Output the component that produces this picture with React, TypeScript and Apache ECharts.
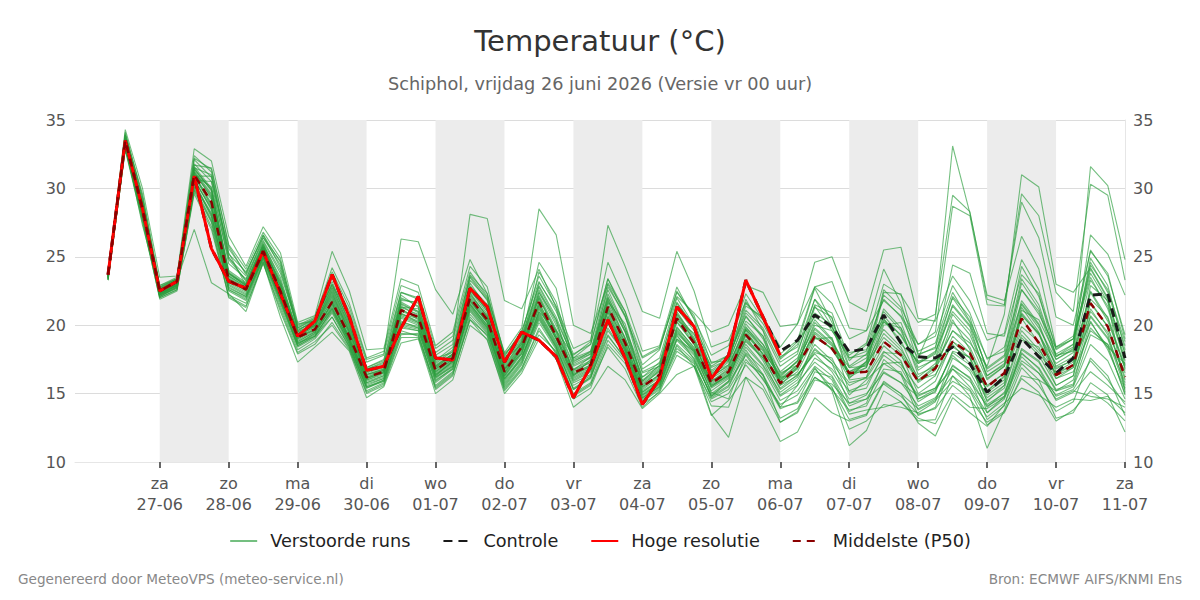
import React, { useEffect, useRef } from "react";
import * as echarts from "echarts";

// 6-hourly steps, hours relative to za 27-06 00:00; first step is 26-06 06:00
const FIRST_HOUR = -18;
const STEP_HOURS = 6;

const weekdays = ["za", "zo", "ma", "di", "wo", "do", "vr", "za", "zo", "ma", "di", "wo", "do", "vr", "za"];
const dates = ["27-06", "28-06", "29-06", "30-06", "01-07", "02-07", "03-07", "04-07", "05-07", "06-07", "07-07", "08-07", "09-07", "10-07", "11-07"];
const shadedDays = [0, 2, 4, 6, 8, 10, 12];
const yTicks = [10, 15, 20, 25, 30, 35];

// Hoge resolutie (runs until 06-07 00:00)
const hoogResolutie = [
  23.7, 33.5, 28.5,
  22.5, 23.2, 30.9, 25.6,
  23.2, 22.7, 25.4, 22.3,
  19.2, 20.3, 23.7, 20.6,
  16.7, 17.0, 19.8, 22.1,
  17.6, 17.45, 22.7, 21.35,
  17.3, 19.5, 18.9, 17.7,
  14.7, 17.0, 20.4, 17.6,
  14.2, 16.1, 21.35, 19.9,
  16.1, 17.8, 23.3, 20.6,
  17.8,
];

// Controle run
const controle = [
  23.7, 33.5, 28.5,
  22.5, 23.2, 30.9, 25.6,
  23.2, 22.7, 25.4, 22.3,
  19.2, 20.3, 23.7, 20.6,
  16.7, 17.0, 19.8, 22.1,
  17.6, 17.45, 22.7, 21.35,
  17.3, 19.5, 18.9, 17.7,
  14.7, 17.0, 20.4, 17.6,
  14.2, 16.1, 21.35, 19.9,
  16.1, 17.8, 23.3, 20.6,
  18.1, 18.9, 20.75, 19.9,
  18.05, 18.3, 20.75, 18.7,
  17.7, 17.6, 18.4, 17.2,
  15.1, 16.2, 19.05, 17.7,
  16.5, 17.6, 22.2, 22.3,
  17.6,
];

// Middelste (P50)
const mediaan = [
  23.7, 33.5, 28.5,
  22.5, 23.2, 31.0, 29.0,
  23.3, 22.6, 25.4, 22.5,
  19.1, 19.7, 21.7, 19.2,
  16.2, 16.6, 21.1, 20.6,
  16.7, 17.6, 22.0, 20.4,
  16.6, 18.4, 21.7, 19.2,
  16.5, 17.1, 21.35, 18.7,
  15.5, 16.4, 20.5, 18.7,
  15.75, 16.6, 19.3, 17.9,
  15.75, 17.0, 19.2, 18.3,
  16.5, 16.6, 18.8, 17.8,
  15.9, 16.85, 18.8, 17.95,
  15.5, 16.5, 20.5, 18.7,
  16.35, 17.1, 21.6, 19.9,
  16.2,
];

// Verstoorde runs (ensemble members)
const run01 = [23.8,33.9,29.0, 22.8,23.4,31.5,29.8, 23.8,22.9,25.8,22.9, 19.4,20.0,22.3,19.6, 16.5,16.9,21.6,20.9, 17.0,17.9,22.6,20.8, 16.9,18.7,22.2,19.7, 16.8,17.4,21.9,19.0, 15.9,16.8,21.0,19.1, 16.3,17.0,19.9,18.3, 16.2,17.4,19.8,18.7, 16.9,17.0,19.4,18.2, 16.2,17.2,19.6,18.4, 15.6,16.5,19.9,18.8, 16.8,17.5,22.4,20.3, 16.9];
const run02 = [23.4,33.0,27.9, 22.1,22.8,30.2,28.1, 22.6,22.0,24.9,21.8, 18.6,19.3,21.0,18.7, 15.7,16.1,20.2,19.9, 16.1,17.0,21.3,19.8, 15.9,17.6,20.8,18.6, 15.8,16.4,20.4,18.1, 14.9,15.8,19.6,18.0, 15.0,15.9,18.4,17.0, 14.8,15.6,17.6,16.8, 15.2,15.7,17.8,16.9, 14.6,15.3,17.0,16.2, 14.0,15.1,18.2,17.3, 15.2,16.0,19.8,18.4, 15.0];
const run03 = [23.6,33.6,28.7, 22.4,23.1,31.8,30.5, 24.5,23.4,26.1,23.8, 19.8,20.4,23.6,21.0, 17.3,17.8,26.3,26.1, 22.6,20.8,24.8,22.3, 17.9,19.2,22.9,20.6, 17.5,18.0,22.6,19.8, 16.6,17.2,20.8,19.3, 16.9,17.5,21.1,19.8, 17.3,18.1,21.4,19.6, 17.6,17.8,20.3,18.9, 16.0,16.4,18.6,17.2, 14.7,15.6,19.3,18.0, 16.1,16.9,20.7,19.1, 15.8];
const run04 = [23.5,33.3,28.3, 22.3,22.9,30.6,28.6, 23.1,22.4,25.2,22.1, 18.9,19.6,21.5,19.2, 16.0,16.4,21.8,21.7, 17.8,18.6,28.1,27.8, 21.8,21.2,24.1,21.3, 17.6,18.1,22.0,19.6, 16.2,17.0,20.9,18.9, 15.6,16.3,18.8,17.6, 15.3,16.2,18.6,17.4, 15.8,16.1,18.1,17.1, 15.4,16.3,19.2,18.0, 15.1,16.0,21.3,19.5, 16.6,17.3,21.7,19.9, 16.0];
const run05 = [23.9,34.1,29.4, 22.9,23.5,32.4,31.2, 25.2,23.9,26.4,24.4, 20.0,20.6,24.2,21.6, 17.6,18.1,22.9,22.4, 18.3,19.2,23.9,22.1, 18.0,19.8,28.5,26.6, 20.0,19.4,23.0,20.6, 17.6,18.3,22.4,20.7, 17.2,17.8,20.6,19.2, 16.5,17.1,20.2,18.9, 16.4,17.3,20.4,19.3, 17.2,18.0,22.1,20.6, 16.6,17.4,23.1,21.2, 17.9,18.6,24.6,22.4, 18.5];
const run06 = [23.7,33.7,28.9, 22.6,23.3,31.2,29.3, 23.6,22.8,25.6,22.6, 19.2,19.9,22.1,19.4, 16.3,16.7,20.6,20.1, 16.5,17.4,22.3,20.6, 16.8,18.5,22.0,19.6, 17.8,18.8,27.3,24.3, 21.0,20.5,25.4,22.5, 18.4,18.9,21.7,20.1, 17.7,18.4,21.9,20.5, 17.0,17.9,21.0,19.6, 16.7,17.6,21.4,19.9, 16.1,17.0,20.8,19.3, 17.2,18.0,23.3,21.4, 17.6];
const run07 = [23.3,32.8,27.5, 22.0,22.6,29.8,27.2, 22.2,21.6,24.7,21.4, 18.2,19.0,20.6,18.4, 15.2,15.8,19.4,19.3, 15.6,16.6,20.8,19.4, 15.5,17.1,20.2,18.2, 15.0,15.8,19.2,17.6, 14.5,15.4,18.3,17.3, 13.5,11.8,16.2,14.0, 11.5,12.2,14.7,13.6, 13.0,13.4,15.8,15.0, 13.9,14.6,16.8,15.9, 14.1,14.8,17.7,16.5, 14.9,15.5,18.6,17.4, 14.6];
const run08 = [23.6,33.4,28.4, 22.5,23.2,30.9,28.8, 23.4,22.7,25.3,22.4, 19.0,19.7,21.9,19.0, 16.1,16.6,21.2,20.4, 16.6,17.5,21.8,20.2, 16.4,18.2,21.5,19.0, 16.3,17.0,21.0,18.4, 15.3,16.2,19.9,18.3, 15.7,16.5,19.6,17.8, 16.0,17.1,19.4,18.2, 16.4,16.9,20.2,19.8, 17.6,20.5,33.1,28.2, 22.2,21.8,26.5,24.1, 18.4,19.0,23.5,21.2, 17.4];
const run09 = [23.5,33.2,28.1, 22.3,23.0,30.7,28.4, 23.2,22.5,25.1,22.2, 18.8,19.5,21.7,18.9, 15.9,16.3,20.9,20.2, 16.4,17.3,22.1,20.5, 16.3,18.1,21.2,19.0, 16.2,16.9,20.7,18.5, 15.2,16.0,19.8,18.4, 15.6,16.4,19.4,17.9, 15.9,16.8,19.7,18.6, 16.6,17.3,21.2,19.8, 16.4,17.0,19.6,18.7, 17.0,20.8,31.0,30.1, 23.0,22.4,24.2,22.0, 17.1];
const run10 = [23.8,33.8,29.1, 22.7,23.4,31.3,29.6, 23.7,22.9,25.7,22.8, 19.3,20.0,22.4,19.5, 16.4,16.8,21.4,20.7, 16.9,17.8,22.2,20.7, 16.7,18.4,22.1,19.4, 16.6,17.3,21.6,19.1, 15.7,16.6,20.6,18.9, 16.1,16.9,20.1,18.6, 16.6,17.6,20.4,19.0, 16.3,17.2,19.7,18.4, 15.8,16.7,20.2,18.9, 16.0,17.0,21.5,19.8, 17.5,18.3,31.6,30.2, 24.8];
const run11 = [23.4,33.1,28.0, 22.2,22.9,30.4,27.9, 22.9,22.2,25.0,22.0, 18.7,19.4,21.3,18.8, 15.8,16.2,20.5,20.0, 16.3,17.2,21.6,20.0, 16.2,17.9,21.0,18.8, 16.0,16.7,20.3,18.2, 15.1,15.9,19.4,18.1, 15.4,16.2,19.0,17.7, 15.7,16.6,19.1,18.3, 16.1,17.4,22.6,21.3, 18.6,19.5,28.7,28.0, 21.5,21.4,29.6,28.0, 22.4,21.0,30.3,29.5, 23.3];
const run12 = [23.3,32.9,27.7, 21.9,22.5,29.9,27.5, 22.0,21.3,24.6,21.0, 17.9,18.6,20.2,18.3, 15.0,15.6,19.1,19.1, 15.3,16.3,20.6,19.2, 15.3,16.8,19.8,17.9, 14.6,15.4,18.6,17.2, 14.2,15.1,17.8,17.0, 14.6,15.3,17.5,16.1, 13.9,14.4,16.9,15.2, 11.2,12.3,15.2,14.4, 13.0,13.1,16.3,14.8, 11.0,13.8,16.9,15.6, 13.7,14.4,17.6,16.3, 13.4];
const run13 = [23.5,33.2,28.2, 22.2,22.8,30.3,28.2, 22.7,22.1,25.0,21.9, 18.5,19.2,21.2,18.6, 15.4,16.0,19.8,19.6, 15.9,16.9,21.2,19.7, 15.7,17.3,20.5,18.4, 15.3,16.1,19.6,17.9, 14.7,15.6,18.9,17.6, 14.8,15.6,18.2,16.4, 14.0,14.3,16.2,15.4, 13.1,13.5,15.9,15.0, 12.85,11.9,14.7,13.6, 12.6,14.2,17.2,16.0, 13.2,13.6,15.8,14.9, 12.2];
const run14 = [23.7,33.5,28.6, 22.5,23.2,31.0,25.6, 23.2,22.6,25.4,22.4, 19.1,20.2,23.5,20.5, 16.6,17.0,19.7,22.0, 17.5,17.5,22.5,21.2, 17.2,19.4,19.0,17.8, 14.8,16.9,20.3,17.7, 14.3,16.2,21.2,19.8, 16.0,17.7,23.3,20.5, 17.6,18.8,20.6,19.8, 18.0,18.2,20.5,18.6, 17.4,17.4,18.4,17.6, 15.2,16.3,19.6,18.2, 16.5,17.1,21.0,19.5, 16.5];
const run15 = [23.6,33.2,27.3, 22.6,23.3,27.0,23.1, 22.3,21.0,24.6,20.6, 17.3,18.4,19.5,18.1, 14.7,15.5,18.7,19.0, 15.0,16.0,20.0,19.0, 15.0,16.5,19.0,17.5, 14.0,15.0,17.0,16.0, 13.9,15.0,16.4,17.0, 13.4,14.5,16.2,15.3, 12.9,13.6,16.0,15.7, 14.3,14.9,17.2,16.4, 14.9,15.4,16.8,15.5, 13.6,14.6,18.0,16.8, 14.5,15.1,16.6,15.6, 14.4];
const run16 = [23.9,34.3,30.0, 23.5,23.6,32.9,32.0, 26.5,24.3,27.2,25.3, 20.2,20.7,25.4,22.5, 18.2,18.3,23.4,22.9, 18.5,19.5,24.3,22.8, 17.7,19.6,23.2,21.0, 17.9,18.6,23.4,20.7, 17.1,18.2,22.5,20.5, 17.8,18.5,22.3,20.4, 17.5,18.6,22.7,20.2, 17.4,18.6,21.9,20.6, 18.1,18.7,22.4,20.3, 17.6,18.1,24.3,22.1, 18.4,19.2,25.5,23.6, 19.3];
const run17 = [23.6,33.5,28.7, 22.5,23.2,31.4,29.9, 23.9,23.0,25.9,23.1, 19.5,20.1,22.8,19.9, 16.7,17.1,22.0,21.4, 17.3,18.2,23.1,21.2, 17.3,18.9,22.6,20.2, 17.1,17.7,22.3,19.8, 16.2,17.3,21.6,19.9, 16.6,17.4,21.4,20.6, 18.4,20.1,24.6,25.0, 21.7,21.0,25.5,25.7, 20.5,20.3,23.6,21.8, 18.9,19.4,24.8,22.6, 18.2,19.0,23.8,21.7, 18.0];
const run18 = [23.5,33.4,28.5, 22.4,23.0,30.8,29.2, 23.5,22.7,25.5,22.7, 19.2,19.9,22.0,19.3, 16.2,16.7,21.1,20.6, 16.8,17.7,21.9,20.3, 16.5,18.3,21.6,19.2, 16.4,17.1,21.2,18.8, 15.5,16.4,20.2,18.6, 15.9,16.8,19.7,18.4, 16.4,17.3,20.0,19.6, 17.8,18.7,23.0,22.2, 20.2,20.8,29.5,28.3, 21.9,21.5,29.0,26.4, 20.6,20.0,25.4,23.8, 19.0];
const run19 = [23.4,33.0,28.1, 22.1,22.7,30.0,27.6, 22.5,21.8,24.8,21.6, 18.4,19.1,20.9,18.5, 15.5,16.0,20.0,19.7, 16.0,16.8,21.4,19.8, 15.8,17.4,20.7,18.5, 15.6,16.3,20.1,18.0, 14.8,15.7,19.2,17.9, 15.2,16.1,18.6,17.1, 15.1,16.0,18.2,17.2, 15.6,16.2,18.5,17.4, 14.4,15.2,18.0,17.1, 14.5,15.4,19.1,17.8, 15.6,16.3,20.6,19.0, 15.4];
const run20 = [23.8,33.7,28.8, 22.6,23.3,31.1,29.4, 23.6,22.8,25.6,22.6, 19.3,20.0,22.2,19.5, 16.4,16.8,21.3,20.8, 16.9,17.8,22.4,20.6, 16.8,18.6,21.9,19.5, 16.7,17.3,21.4,19.0, 15.8,16.7,20.7,19.0, 16.2,17.1,19.7,18.2, 16.1,17.1,19.5,18.5, 16.6,17.1,19.1,18.0, 16.0,17.0,20.8,19.3, 16.3,17.1,21.8,20.1, 17.0,17.7,22.5,20.5, 16.8];
const run21 = [23.6,33.6,28.8, 22.6,23.2,31.6,30.0, 24.0,23.1,26.0,23.3, 19.6,20.3,23.0,20.1, 16.8,17.3,20.7,20.2, 16.2,17.0,21.0,19.5, 16.1,17.7,20.6,18.4, 15.3,16.2,19.3,17.5, 14.6,15.5,18.6,17.4, 14.9,15.8,17.8,16.0, 14.2,14.9,16.8,15.5, 12.4,13.0,14.2,14.0, 13.6,14.4,17.6,16.8, 14.9,15.8,20.7,19.4, 16.3,16.9,21.2,19.3, 15.6];
const run22 = [23.7,33.6,28.9, 22.7,23.3,31.2,29.5, 23.8,23.0,25.8,23.0, 19.5,20.1,22.6,19.8, 16.8,17.2,21.7,21.0, 17.2,18.1,22.8,21.0, 17.4,19.0,22.8,20.4, 17.6,18.6,23.4,21.0, 17.7,18.4,22.1,20.9, 19.5,20.0,22.9,22.4, 19.9,20.1,22.8,21.6, 19.0,19.6,21.8,20.7, 18.6,19.2,22.9,20.9, 17.5,18.4,22.6,20.8, 18.3,19.0,24.1,21.9, 17.9];
const run23 = [23.4,33.1,28.2, 22.3,22.9,30.5,28.0, 22.8,22.1,25.0,21.9, 18.6,19.4,21.4,18.8, 15.6,16.1,20.3,19.8, 16.2,17.1,21.5,19.9, 16.0,17.7,20.9,18.7, 15.9,16.6,20.6,18.3, 15.0,15.8,19.5,18.2, 15.5,16.3,18.9,17.6, 15.4,16.4,17.9,16.6, 14.6,15.0,16.5,15.8, 14.1,14.7,16.3,15.3, 13.3,14.3,15.4,14.9, 14.0,14.6,14.5,14.8, 13.6];
const run24 = [23.7,33.5,28.6, 22.5,23.1,31.0,28.9, 23.3,22.6,25.4,22.5, 19.1,19.8,21.8,19.1, 16.2,16.6,21.0,20.6, 16.7,17.6,22.0,20.4, 16.6,18.4,21.7,19.2, 16.5,17.1,21.3,18.7, 15.5,16.4,20.5,18.7, 15.8,16.6,19.3,17.9, 15.8,17.0,19.2,18.3, 16.5,16.6,18.8,17.8, 15.9,16.9,18.8,18.0, 15.5,16.5,20.5,18.7, 16.4,17.1,21.6,19.9, 16.2];
const run25 = [23.6,33.4,28.5, 22.4,23.1,30.9,28.7, 23.4,22.6,25.4,22.4, 19.0,19.7,21.6,19.0, 16.1,16.5,20.8,20.5, 16.6,17.5,21.7,20.2, 16.5,18.3,21.4,19.1, 16.4,17.0,21.1,18.6, 15.4,16.3,20.3,18.6, 15.9,16.7,19.4,18.1, 16.3,17.4,21.5,20.9, 17.6,18.1,22.2,21.1, 17.3,18.1,21.0,19.6, 16.3,17.2,22.6,21.0, 17.5,18.2,24.4,22.6, 18.8];
const run26 = [23.3,32.9,27.8, 22.0,22.6,29.6,27.0, 22.1,21.4,24.5,21.2, 18.0,18.8,20.0,18.2, 15.1,15.7,19.3,19.4, 15.4,16.4,20.4,19.3, 15.4,16.9,19.6,18.0, 14.8,15.6,18.9,17.4, 14.4,15.3,18.1,17.2, 14.4,15.0,17.1,15.6, 13.2,13.9,16.2,15.3, 13.8,14.1,16.6,15.8, 14.8,15.4,17.8,16.6, 14.2,15.0,17.9,16.9, 14.8,15.3,17.4,16.0, 14.2];
const run27 = [23.7,33.7,28.9, 22.6,23.3,31.4,29.9, 23.8,22.9,25.7,22.9, 19.4,20.0,22.5,19.7, 16.6,17.0,21.5,21.0, 17.1,17.9,22.7,21.0, 17.1,18.8,22.4,20.0, 17.0,17.6,22.1,19.5, 16.0,16.9,21.2,19.6, 17.0,17.8,21.6,20.4, 17.9,18.9,22.8,23.2, 19.8,19.6,24.1,21.6, 17.8,18.4,22.0,20.2, 16.8,17.7,21.6,20.0, 16.9,17.4,20.2,18.4, 17.2];
const run28 = [23.5,33.3,28.3, 22.3,23.0,30.6,28.5, 23.0,22.3,25.1,22.1, 18.8,19.5,21.6,18.9, 15.8,16.3,20.8,20.3, 16.4,17.3,21.8,20.2, 16.3,18.0,21.3,19.0, 16.1,16.8,20.5,18.3, 15.1,16.0,19.7,18.2, 15.5,16.4,19.2,17.4, 14.9,15.8,17.3,16.3, 14.1,14.6,15.7,14.8, 13.5,13.9,15.6,14.6, 12.9,13.7,16.1,15.1, 13.0,13.8,15.2,14.3, 13.0];
const run29 = [23.8,34.0,29.3, 22.8,23.4,32.1,30.8, 24.9,23.6,26.2,24.0, 19.9,20.5,23.9,21.3, 17.5,17.9,22.4,22.0, 18.0,18.9,23.5,21.8, 17.8,19.5,23.6,21.4, 18.3,18.9,24.6,21.8, 18.1,18.5,22.8,20.4, 16.7,17.6,20.9,19.6, 17.0,17.9,21.9,19.9, 16.9,17.6,20.7,19.2, 17.2,17.9,21.5,20.0, 16.9,17.8,23.4,21.5, 17.7,18.4,24.9,22.9, 18.2];
const run30 = [23.4,33.0,28.0, 22.1,22.8,30.1,27.7, 22.6,21.9,24.9,21.7, 18.5,19.2,21.1,18.6, 15.5,15.9,19.9,19.6, 15.8,16.8,21.1,19.6, 15.6,17.2,20.4,18.3, 15.4,16.2,19.8,17.8, 14.7,15.5,19.0,17.8, 14.7,15.5,18.0,16.8, 14.5,15.2,17.0,16.0, 13.5,13.8,14.0,14.4, 13.2,12.8,15.0,14.0, 13.9,14.7,17.4,16.5, 14.6,15.2,14.8,14.6, 14.0];
const run31 = [23.6,33.4,28.2, 22.2,22.9,30.6,30.5, 25.6,23.8,26.6,24.6, 19.6,20.4,22.9,20.3, 16.9,17.4,22.2,21.3, 16.8,17.6,22.9,21.5, 17.5,18.6,23.1,21.2, 17.2,17.9,20.9,18.1, 14.9,15.7,19.0,18.1, 15.1,14.6,17.9,16.3, 14.0,15.6,19.0,19.1, 15.1,15.4,18.0,17.9, 15.0,15.9,18.8,17.6, 13.6,14.8,18.9,18.4, 15.6,16.3,22.9,21.8, 15.1];
const run32 = [23.8,33.9,29.6, 22.9,23.4,32.2,31.4, 25.9,24.1,26.8,24.9, 19.8,20.5,23.0,20.7, 16.9,17.5,22.4,21.9, 17.4,18.4,23.7,22.3, 17.6,19.1,24.6,22.7, 17.3,18.1,23.1,21.0, 16.8,17.6,22.0,20.0, 17.3,17.4,20.3,19.2, 15.6,16.3,18.3,17.2, 14.3,14.6,16.8,16.6, 13.8,14.5,15.9,15.2, 12.7,13.6,16.3,16.0, 15.2,15.6,19.3,18.6, 14.9];
const run33 = [23.5,33.3,28.5, 22.3,22.9,31.5,31.0, 25.0,23.2,25.9,23.5, 19.3,19.6,21.2,18.9, 16.0,16.5,21.3,21.2, 17.6,18.0,23.3,21.9, 16.8,17.9,22.4,20.4, 16.3,17.5,21.7,20.1, 15.9,17.1,21.7,19.9, 16.4,17.3,21.9,19.6, 15.6,16.9,21.3,20.6, 16.0,16.2,20.0,20.2, 16.9,17.5,20.4,18.2, 15.2,16.2,20.9,19.4, 16.1,16.6,19.6,18.6, 16.7];
const run34 = [23.6,33.6,28.9, 22.6,23.2,31.7,31.5, 25.8,23.7,26.6,24.2, 19.7,20.2,22.7,20.0, 16.4,16.7,20.1,19.8, 16.3,17.4,21.5,20.0, 16.1,17.5,21.0,19.6, 16.7,17.7,22.8,20.7, 16.5,17.0,19.3,17.5, 14.8,15.9,19.8,18.6, 16.2,16.4,18.0,17.6, 14.9,16.0,17.2,17.3, 14.6,15.1,18.1,17.7, 14.4,15.6,21.1,20.4, 17.8,18.1,21.9,20.6, 17.0];
const run35 = [23.4,33.1,28.6, 22.2,22.7,30.9,30.9, 25.3,22.9,25.6,23.2, 18.7,19.2,20.6,18.4, 15.4,15.9,19.6,19.2, 15.5,16.5,20.4,18.9, 15.2,16.7,19.3,18.1, 14.9,15.7,18.4,16.8, 14.0,15.2,18.5,17.0, 14.1,14.0,17.3,16.4, 12.9,13.7,16.6,16.2, 13.7,14.3,17.5,16.4, 13.4,14.0,17.1,16.1, 13.1,14.1,18.3,17.4, 15.3,15.7,20.3,18.2, 15.3];
const run36 = [23.7,33.6,28.4, 22.4,23.0,31.0,30.1, 24.8,23.3,26.4,24.7, 20.1,20.3,23.2,20.2, 16.1,16.6,21.9,21.6, 17.0,17.9,23.6,22.0, 17.0,18.8,23.9,21.7, 17.4,17.9,21.8,19.5, 15.6,16.7,20.4,19.4, 16.5,17.1,20.7,19.0, 16.0,16.9,20.9,20.0, 16.2,16.9,22.4,22.3, 17.9,18.3,24.4,23.8, 19.4,19.2,23.7,22.3, 17.7,18.6,26.6,25.2, 22.2];

const verstoordeRuns = [
  run01, run02, run03, run04, run05, run06, run07, run08, run09, run10,
  run11, run12, run13, run14, run15, run16, run17, run18, run19, run20,
  run21, run22, run23, run24, run25, run26, run27, run28, run29, run30,
  run31, run32, run33, run34, run35, run36,
];

const FONT = "DejaVu Sans";
const ENSEMBLE_COLOR = "#2a9d3c";

const toPairs = (values: number[]) =>
  values.map((v, i) => [FIRST_HOUR + i * STEP_HOURS, v]);

export default function App() {
  const ref = useRef<HTMLDivElement>(null);

  useEffect(() => {
    if (!ref.current) return;
    const chart = echarts.init(ref.current, undefined, { renderer: "svg" });

    const dayHours = dates.map((_, i) => i * 24);

    const ensembleSeries = verstoordeRuns.map((run) => ({
      type: "line",
      name: "Verstoorde runs",
      data: toPairs(run),
      symbol: "none",
      silent: true,
      z: 2,
      itemStyle: { color: ENSEMBLE_COLOR },
      lineStyle: { width: 1.1, color: ENSEMBLE_COLOR, opacity: 0.65 },
    }));

    const option = {
      animation: false,
      textStyle: { fontFamily: FONT },
      title: [
        {
          text: "Temperatuur (°C)",
          left: "center",
          top: 21,
          textStyle: { fontFamily: FONT, fontSize: 29, fontWeight: "normal", color: "#333" },
        },
        {
          text: "Schiphol, vrijdag 26 juni 2026 (Versie vr 00 uur)",
          left: "center",
          top: 70,
          textStyle: { fontFamily: FONT, fontSize: 17.7, fontWeight: "normal", color: "#666" },
        },
      ],
      legend: {
        data: ["Verstoorde runs", "Controle", "Hoge resolutie", "Middelste (P50)"],
        left: "center",
        top: 527,
        itemWidth: 27,
        itemHeight: 12,
        itemGap: 32,
        itemStyle: { opacity: 0 },
        textStyle: { fontFamily: FONT, fontSize: 17.7, color: "#222", padding: [0, 0, 0, 8] },
      },
      grid: { left: 75, right: 75, top: 120, bottom: 138, containLabel: false },
      xAxis: {
        type: "value",
        min: -29.5,
        max: 336,
        splitLine: { show: false },
        axisLine: { show: true, lineStyle: { color: "#e6e6e6" } },
        axisTick: {
          show: true,
          customValues: dayHours,
          length: 6,
          lineStyle: { color: "#666", width: 2 },
        },
        axisLabel: {
          customValues: dayHours,
          margin: 11,
          fontFamily: FONT,
          fontSize: 16,
          color: "#555",
          lineHeight: 21,
          formatter: (v: number) => {
            const i = Math.round(v / 24);
            return `${weekdays[i]}\n${dates[i]}`;
          },
        },
      },
      yAxis: [
        {
          type: "value",
          min: yTicks[0],
          max: yTicks[yTicks.length - 1],
          interval: 5,
          axisLine: { show: false },
          axisTick: { show: false },
          splitLine: { lineStyle: { color: "#dcdcdc" } },
          axisLabel: { fontFamily: FONT, fontSize: 16, color: "#555", margin: 9 },
        },
        {
          type: "value",
          position: "right",
          min: yTicks[0],
          max: yTicks[yTicks.length - 1],
          interval: 5,
          axisLine: { show: true, lineStyle: { color: "#e6e6e6" } },
          axisTick: { show: false },
          splitLine: { show: false },
          axisLabel: { fontFamily: FONT, fontSize: 16, color: "#555", margin: 8 },
        },
      ],
      series: [
        {
          type: "line",
          name: "dagen",
          data: [],
          silent: true,
          z: 1,
          markArea: {
            silent: true,
            itemStyle: { color: "#ececec" },
            data: shadedDays.map((d) => [{ xAxis: d * 24 }, { xAxis: (d + 1) * 24 }]),
          },
        },
        ...ensembleSeries,
        {
          type: "line",
          name: "Controle",
          data: toPairs(controle),
          symbol: "none",
          z: 3,
          itemStyle: { color: "#1a1a1a" },
          lineStyle: { width: 3, color: "#1a1a1a", type: [9, 6] },
        },
        {
          type: "line",
          name: "Hoge resolutie",
          data: toPairs(hoogResolutie),
          symbol: "none",
          z: 4,
          itemStyle: { color: "#ff0000" },
          lineStyle: { width: 3, color: "#ff0000" },
        },
        {
          type: "line",
          name: "Middelste (P50)",
          data: toPairs(mediaan),
          symbol: "none",
          z: 5,
          itemStyle: { color: "#8b0000" },
          lineStyle: { width: 2.5, color: "#8b0000", type: [8, 6] },
        },
      ],
      graphic: [
        {
          type: "text",
          left: 18,
          top: 572,
          style: {
            text: "Gegenereerd door MeteoVPS (meteo-service.nl)",
            fontFamily: FONT,
            fontSize: 13.6,
            fill: "#888",
          },
        },
        {
          type: "text",
          right: 18,
          top: 572,
          style: {
            text: "Bron: ECMWF AIFS/KNMI Ens",
            fontFamily: FONT,
            fontSize: 13.6,
            fill: "#888",
          },
        },
      ],
    };

    chart.setOption(option as any);
    return () => chart.dispose();
  }, []);

  return (
    <div
      ref={ref}
      style={{ position: "fixed", left: 0, top: 0, width: 1200, height: 600, background: "#fff" }}
    />
  );
}
